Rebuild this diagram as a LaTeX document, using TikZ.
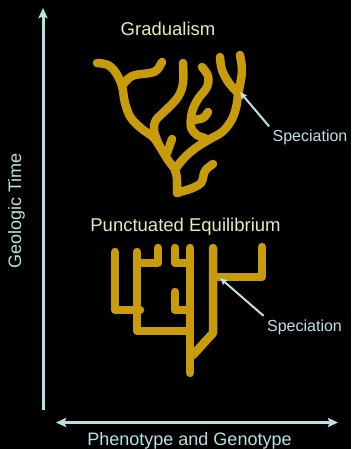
\documentclass[tikz,border=0pt]{standalone}
\usepackage{fontspec}
\setmainfont{Liberation Sans}
\usetikzlibrary{arrows.meta}
\definecolor{gold}{RGB}{200,155,10}
\definecolor{axiscol}{RGB}{185,225,225}
\definecolor{titlecol}{RGB}{230,235,185}
\definecolor{speccol}{RGB}{190,225,230}
\begin{document}
\begin{tikzpicture}[x=1pt,y=-1pt,
  branch/.style={draw=gold,line width=8.5pt,line cap=round,line join=round},
  axisline/.style={draw=axiscol,line width=3pt},
  axistip/.style={Stealth[length=10pt,width=9pt,inset=1.5pt]},
  spectip/.style={Stealth[length=7pt,width=6pt,inset=1pt]},
  specarrow/.style={draw=speccol,line width=2pt,-{Stealth[length=7pt,width=6pt,inset=1pt]}},
  titletext/.style={text=titlecol,anchor=base,inner sep=0pt,font=\fontsize{18.5}{22}\selectfont},
  axistext/.style={text=axiscol,anchor=base,inner sep=0pt,font=\fontsize{18}{22}\selectfont},
  spectext/.style={text=speccol,anchor=base,font=\fontsize{16}{19}\selectfont}]
\fill[black] (0,0) rectangle (351,449);
\useasboundingbox (0,0) rectangle (351,449);

% axes
\coordinate (vb) at (43,410);
\coordinate (vt) at (43,8);
\coordinate (hl) at (56,422.5);
\coordinate (hr) at (338,422.5);
\draw[axisline,-{Stealth[length=10pt,width=9pt,inset=1.5pt]}] (vb) -- (vt);
\draw[axisline,{Stealth[length=10pt,width=9pt,inset=1.5pt]}-{Stealth[length=10pt,width=9pt,inset=1.5pt]}] (hl) -- (hr);
\node[axistext,rotate=90] (gt) at (21,211) {Geologic Time};
\node[axistext] (pg) at (189.5,445) {Phenotype and Genotype};

% titles
\node[titletext] (grad) at (168,36) {Gradualism};
\node[titletext] (punc) at (185.5,231.5) {Punctuated Equilibrium};

% gradualism tree
\draw[branch] plot[smooth,tension=0.6] coordinates {(97,63) (108,65) (116,73) (122,86) (125,103) (131,118) (142,129) (153,137) (160,147) (168,160) (175,170) (177,180) (177,193)};
\draw[branch] (177,193) -- (190,189);
\draw[branch] plot[smooth,tension=0.6] coordinates {(190,189) (201,183) (205,171) (213,164)};
\draw[branch] plot[smooth,tension=0.6] coordinates {(122,86) (132,76) (150,73) (157,70) (162,62)};
\draw[branch] plot[smooth,tension=0.6] coordinates {(183,63) (183,83) (178,97) (166,110) (156,120) (154,130) (157,140) (160,147)};
\draw[branch] (172,139) -- (167,153);
\draw[branch] plot[smooth,tension=0.6] coordinates {(220,57) (222,70) (229,83) (238,93)};
\draw[branch] plot[smooth,tension=0.6] coordinates {(240,55) (242,70) (240,85) (238,95) (236,108) (231,121) (222,132) (210,139) (197,147) (185,157) (176,168)};
\draw[branch] plot[smooth,tension=0.6] coordinates {(202,67) (208,76) (207,87) (198,99) (192,112) (191,127) (197,135) (205,138)};
\draw[branch] plot[smooth,tension=0.6] coordinates {(193,120) (203,118) (208,112)};

% punctuated tree
\draw[branch] (115,252) -- (115,310) -- (140,310);
\draw[branch] (137,252) -- (137,331) -- (190,331);
\draw[branch] (158,248) -- (158,263) -- (137,263);
\draw[branch] (190,248) -- (190,373);
\draw[branch] (175,248) -- (175,263) -- (190,263);
\draw[branch] (175,292) -- (175,310) -- (190,310);
\draw[branch] (213,248) -- (213,333) -- (193,355);
\draw[branch] (213,277) -- (262,277) -- (262,247);

% speciation labels
\node[spectext] (spec1) at (310,141.5) {Speciation};
\node[spectext] (spec2) at (304.5,331) {Speciation};
\coordinate (sp1tip) at (240,92);
\coordinate (sp2tip) at (220,278);
\draw[specarrow] (spec1.north west) -- (sp1tip);
\draw[specarrow] (spec2.north west) -- (sp2tip);
\end{tikzpicture}
\end{document}
